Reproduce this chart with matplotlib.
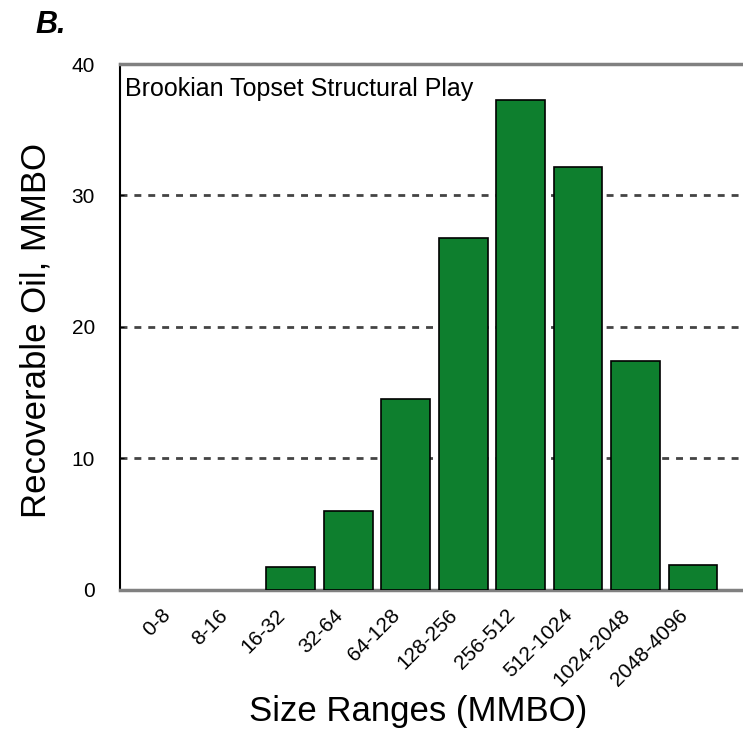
import matplotlib.pyplot as plt
import matplotlib.transforms as mtransforms

# size classes and recoverable oil per class
size_ranges = ['0-8', '8-16', '16-32', '32-64', '64-128', '128-256',
               '256-512', '512-1024', '1024-2048', '2048-4096']
oil_mmbo = [0, 0, 1.75, 6.0, 14.5, 26.8, 37.3, 32.2, 17.4, 1.9]

plt.rcParams['font.family'] = ['Liberation Sans', 'DejaVu Sans']

fig = plt.figure(figsize=(7.43, 7.29), dpi=100)
ax = fig.add_axes([0.1615, 0.1907, 0.8385, 0.7215])

x = range(len(size_ranges))
# empty classes get no outline
lws = [1.2 if v > 0 else 0 for v in oil_mmbo]
ax.bar(x, oil_mmbo, width=0.85, color='#0e7f2e', edgecolor='black', linewidth=lws, zorder=3)

ax.set_ylim(0, 40)
ax.set_xlim(-0.97, 9.87)
ax.set_yticks([0, 10, 20, 30, 40])
ax.set_xticks(list(x))
ax.set_xticklabels(size_ranges, rotation=45, ha='right', va='center', rotation_mode='anchor')
ax.tick_params(axis='x', length=0, labelsize=15, pad=16)
ax.tick_params(axis='y', direction='in', length=3, width=0.8, labelsize=15, pad=18)

# nudge x labels a little left
offset = mtransforms.ScaledTranslation(-6 / 72, 0, fig.dpi_scale_trans)
for lbl in ax.get_xticklabels():
    lbl.set_transform(lbl.get_transform() + offset)

# dashed reference lines
for yv in [10, 20, 30]:
    ax.axhline(yv, color='#444444', linestyle=(0, (2.5, 2.5)), linewidth=2, zorder=1)

ax.spines['right'].set_visible(False)
ax.spines['left'].set_color('black')
ax.spines['left'].set_linewidth(1.5)
ax.spines['top'].set_color('#808080')
ax.spines['top'].set_linewidth(2.5)
ax.spines['bottom'].set_color('#808080')
ax.spines['bottom'].set_linewidth(2.5)

ax.set_ylabel('Recoverable Oil, MMBO', fontsize=25)
ax.yaxis.set_label_coords(-0.108, 0.494)
ax.set_xlabel('Size Ranges (MMBO)', fontsize=25)
ax.xaxis.set_label_coords(0.478, -0.2)

ax.text(0.008, 0.975, 'Brookian Topset Structural Play', transform=ax.transAxes,
        fontsize=18, va='top', ha='left')
fig.text(0.048, 0.955, 'B.', fontsize=22, fontweight='bold', fontstyle='italic')

fig.savefig('out.png', dpi=100)
